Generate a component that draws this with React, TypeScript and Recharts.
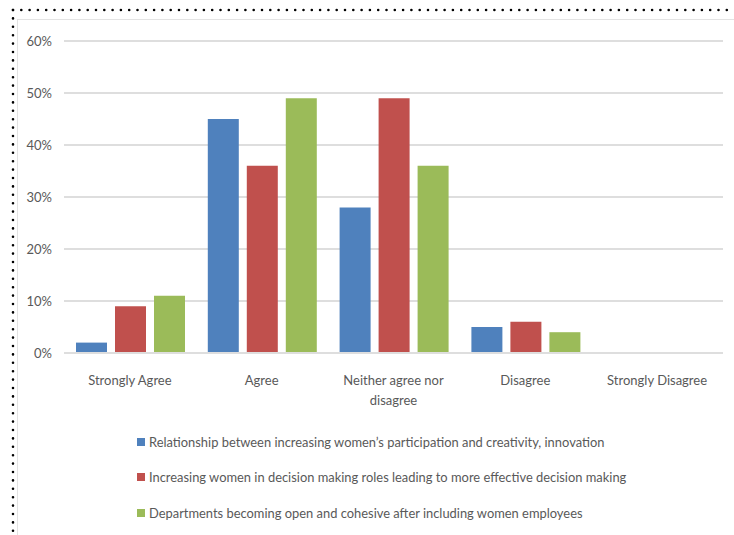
import React from "react";
import { BarChart, Bar, XAxis, YAxis, CartesianGrid, Legend } from "recharts";

const categories = ["Strongly Agree", "Agree", "Neither agree nor disagree", "Disagree", "Strongly Disagree"];
const relationship = [2, 45, 28, 5, 0];
const decisionMaking = [9, 36, 49, 6, 0];
const departments = [11, 49, 36, 4, 0];
const yTicks = [0, 10, 20, 30, 40, 50, 60];

const seriesNames = [
  "Relationship between increasing women\u2019s participation and creativity, innovation",
  "Increasing women in decision making roles leading to more effective decision making",
  "Departments becoming open and cohesive after including women employees",
];
const colors = ["#4F81BD", "#C0504D", "#9BBB59"];

const data = categories.map((name, i) => ({
  name,
  s0: relationship[i],
  s1: decisionMaking[i],
  s2: departments[i],
}));

const FONT = "Lato, 'Open Sans', sans-serif";
const TEXT = "#595959";

// splits long category names into two lines like Excel does
const wrap = (label: string, max = 18) => {
  const words = label.split(" ");
  const lines: string[] = [];
  let cur = "";
  words.forEach((w) => {
    const next = cur ? cur + " " + w : w;
    if (next.length > max && cur) {
      lines.push(cur);
      cur = w;
    } else {
      cur = next;
    }
  });
  if (cur) lines.push(cur);
  return lines;
};

const CategoryTick = (props: any) => {
  const { x, y, payload } = props;
  const lines = wrap(payload.value);
  return (
    <text x={x} y={y} textAnchor="middle" fill={TEXT} fontSize={13} fontFamily={FONT}>
      {lines.map((l, i) => (
        <tspan key={l} x={x} dy={i === 0 ? 24 : 20}>
          {l}
        </tspan>
      ))}
    </text>
  );
};

const LegendBox = () => (
  <div style={{ height: 105, fontFamily: FONT, fontSize: 12.9, color: TEXT }}>
    {seriesNames.map((n, i) => (
      <div key={n} style={{ display: "flex", alignItems: "center", height: 35.5 }}>
        <span style={{ width: 8, height: 8, background: colors[i], marginRight: 4, display: "inline-block" }} />
        <span>{n}</span>
      </div>
    ))}
  </div>
);

export default function App() {
  return (
    <div style={{ position: "relative", width: 734, height: 535, background: "#fff" }}>
      <style>{`body{margin:0}`}</style>
      <svg width={734} height={535} style={{ position: "absolute", left: 0, top: 0 }}>
        <rect x={17.5} y={19.5} width={730} height={530} fill="none" stroke="#e3e3e3" />
        <line x1={13} y1={10} x2={734} y2={10} stroke="#000" strokeWidth={2.6} strokeLinecap="round" strokeDasharray="0 8.3" />
        <line x1={13} y1={10} x2={13} y2={535} stroke="#000" strokeWidth={2.6} strokeLinecap="round" strokeDasharray="0 8.4" />
      </svg>
      <div style={{ position: "absolute", left: 0, top: 0 }}>
        <BarChart
          width={734}
          height={535}
          data={data}
          margin={{ top: 41, right: 11, left: 0, bottom: 17 }}
          barCategoryGap={12}
          barGap={8}
        >
          <CartesianGrid vertical={false} stroke="#dedede" strokeWidth={2} />
          <XAxis
            dataKey="name"
            height={60}
            axisLine={{ stroke: "#dedede", strokeWidth: 2 }}
            tickLine={false}
            tick={<CategoryTick />}
            interval={0}
          />
          <YAxis
            width={64}
            domain={[0, 60]}
            ticks={yTicks}
            tickFormatter={(v: number) => `${v}%`}
            axisLine={false}
            tickLine={false}
            tickMargin={6}
            tick={{ fill: TEXT, fontSize: 13, fontFamily: FONT }}
          />
          <Legend
            content={<LegendBox />}
            verticalAlign="bottom"
            wrapperStyle={{ top: 424, left: 137, width: 560 }}
          />
          {["s0", "s1", "s2"].map((k, i) => (
            <Bar key={k} dataKey={k} name={seriesNames[i]} fill={colors[i]} isAnimationActive={false} />
          ))}
        </BarChart>
      </div>
    </div>
  );
}
